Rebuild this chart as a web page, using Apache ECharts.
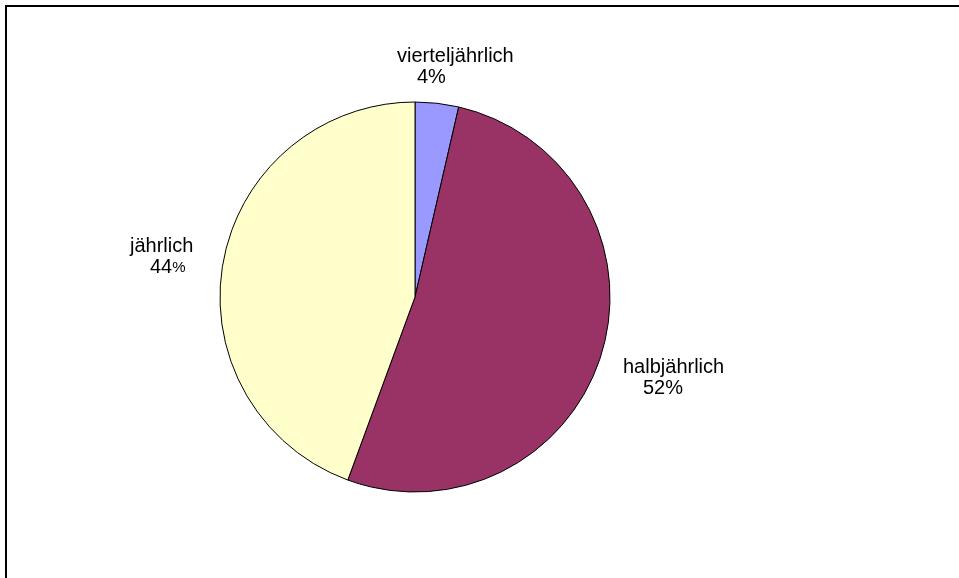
<!DOCTYPE html>
<html>
<head>
<meta charset="utf-8">
<script src="https://cdn.jsdelivr.net/npm/echarts@6/dist/echarts.min.js"></script>
<style>
  html, body { margin: 0; padding: 0; background: #fff; }
  #chart { width: 959px; height: 578px; }
</style>
</head>
<body>
<div id="chart"></div>
<script>
var categories = ['vierteljährlich', 'halbjährlich', 'jährlich'];
var values = [3.6, 52.0, 44.4];
var colors = ['#9999FF', '#993366', '#FFFFCC'];

// label top-left positions (Excel places them freely)
var labelPos = {
    'vierteljährlich': [397, 46],
    'halbjährlich': [623, 357],
    'jährlich': [130, 236]
};

var pieData = [];
for (var i = 0; i < categories.length; i++) {
    pieData.push({ name: categories[i], value: values[i], itemStyle: { color: colors[i] } });
}

var chart = echarts.init(document.getElementById('chart'));
var option = {
    animation: false,
    graphic: [{
        type: 'rect',
        shape: { x: 6, y: 6, width: 1000, height: 1000 },
        style: { fill: 'none', stroke: '#000', lineWidth: 2 },
        silent: true
    }],
    series: [{
        type: 'pie',
        center: [415, 297],
        radius: 195,
        startAngle: 90,
        clockwise: true,
        data: pieData,
        itemStyle: { borderColor: '#000', borderWidth: 1 },
        labelLine: { show: false },
        label: {
            show: true,
            formatter: function (p) {
                var pct = Math.round(p.percent);
                if (p.name === 'jährlich') {
                    return '{n|' + p.name + '}\n{p|' + pct + '}{s|%}';
                }
                return '{n|' + p.name + '}\n{p|' + pct + '%}';
            },
            rich: {
                n: { fontFamily: 'Liberation Sans, Arial', fontSize: 20, lineHeight: 21, color: '#000' },
                p: { fontFamily: 'Liberation Sans, Arial', fontSize: 20, lineHeight: 21, color: '#000', padding: [0, 0, 0, 20] },
                s: { fontFamily: 'Liberation Sans, Arial', fontSize: 15, lineHeight: 21, color: '#000' }
            }
        },
        labelLayout: function (params) {
            var pos = labelPos[categories[params.dataIndex]];
            return { x: pos[0], y: pos[1], align: 'left', verticalAlign: 'top' };
        }
    }]
};
chart.setOption(option);
</script>
</body>
</html>
